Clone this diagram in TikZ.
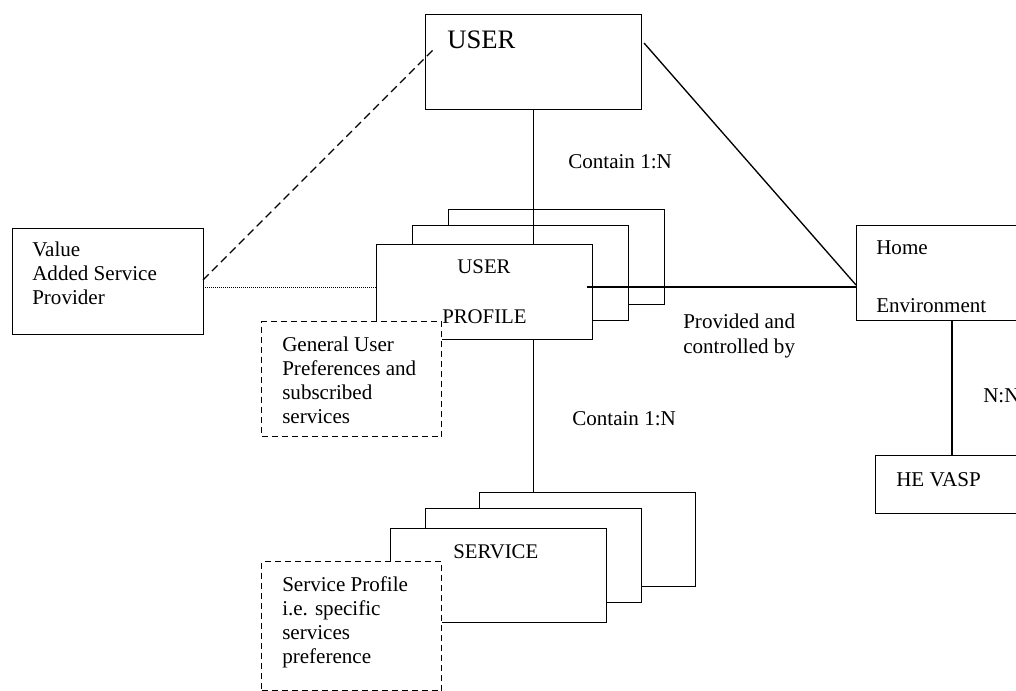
\documentclass[tikz,border=0pt]{standalone}
\usepackage{fontspec}
\setmainfont{Liberation Serif}
\begin{document}
\begin{tikzpicture}[x=0.75pt,y=-0.75pt,
  rbox/.style={draw, fill=white, line width=1pt, inner sep=0pt, anchor=north west, minimum width=162pt, minimum height=71pt},
  dbox/.style={draw, fill=white, line width=1pt, dash pattern=on 4.5pt off 3pt, inner sep=0pt, anchor=north west},
  txt/.style={inner sep=0pt, anchor=base west, font=\fontsize{15.8}{18}\selectfont},
  mtxt/.style={inner sep=0pt, anchor=base west, font=\fontsize{15.6}{18}\selectfont},
  conn/.style={line width=1pt}]
\useasboundingbox (0,0) rectangle (1016,691);
% USER box
\node[rbox] (user) at (425,14) {};
\node[inner sep=0pt, anchor=base west, font=\fontsize{20}{24}\selectfont] (usert) at (447,49) {USER};
% user profile stack
\node[rbox] (pb) at (448,209) {};
\node[rbox] (pm) at (412,225) {};
\node[rbox] (pf) at (376,244) {};
\node[mtxt, anchor=base] (pft1) at (484,274) {USER};
\node[mtxt] (pft2) at (442,323) {PROFILE};
% general user dashed box
\node[dbox, minimum width=135pt, minimum height=86.25pt] (gen) at (261,321) {};
\node[txt, align=left] (gent) at (282,423) {General User\\Preferences and\\subscribed\\services};
% VASP box
\node[rbox, minimum width=143.25pt, minimum height=79.5pt] (vasp) at (12,228) {};
\node[txt, align=left] (vaspt) at (32,305) {Value\\Added Service\\Provider};
% Home Environment
\node[rbox, minimum width=135pt, minimum height=71.25pt] (home) at (856,225) {};
\node[txt] (homet1) at (876,255) {Home};
\node[txt] (homet2) at (876,312) {Environment};
% HE VASP
\node[rbox, minimum width=120pt, minimum height=43.5pt] (hev) at (875,455) {};
\node[txt] (hevt) at (896,486) {HE VASP};
% service stack
\node[rbox, minimum height=70.5pt] (sb) at (479,492) {};
\node[rbox, minimum height=70.5pt] (sm) at (425,508) {};
\node[rbox, minimum height=70.5pt] (sf) at (390,528) {};
\node[mtxt] (sft) at (453,558) {SERVICE};
% service profile dashed box
\node[dbox, minimum width=135pt, minimum height=96.75pt] (sp) at (261,561) {};
\node[txt, align=left] (spt) at (282,663) {Service Profile\\i.e. specific\\services\\preference};
% labels
\node[txt] (c1) at (568,169) {Contain 1:N};
\node[txt] (c2) at (572,425) {Contain 1:N};
\node[txt, align=left] (pc) at (683,353) {Provided and\\controlled by};
\node[txt] (nn) at (983,402) {N:N};
% coordinates
\coordinate (hp) at (587,287);
\coordinate (ud) at (644,43);
\coordinate (he) at (856,285);
\coordinate (vd) at (203,280);
\coordinate (ui) at (433,50);
\coordinate (vh) at (203,287);
\coordinate (pl) at (376,287);
% connectors
\draw[conn] (user.south) -- (user.south |- pf.north);
\draw[conn] (user.south |- pf.south) -- (user.south |- sb.north);
\draw[conn] (hp) -- (hp -| home.west);
\draw[conn] (ud) -- (he);
\draw[conn, dash pattern=on 6pt off 3.5pt] (vd) -- (ui);
\draw[line width=0.6pt, dash pattern=on 0.75pt off 0.75pt] (vh) -- (pl);
\draw[conn] (952,0 |- home.south) -- (952,0 |- hev.north);
\end{tikzpicture}
\end{document}
